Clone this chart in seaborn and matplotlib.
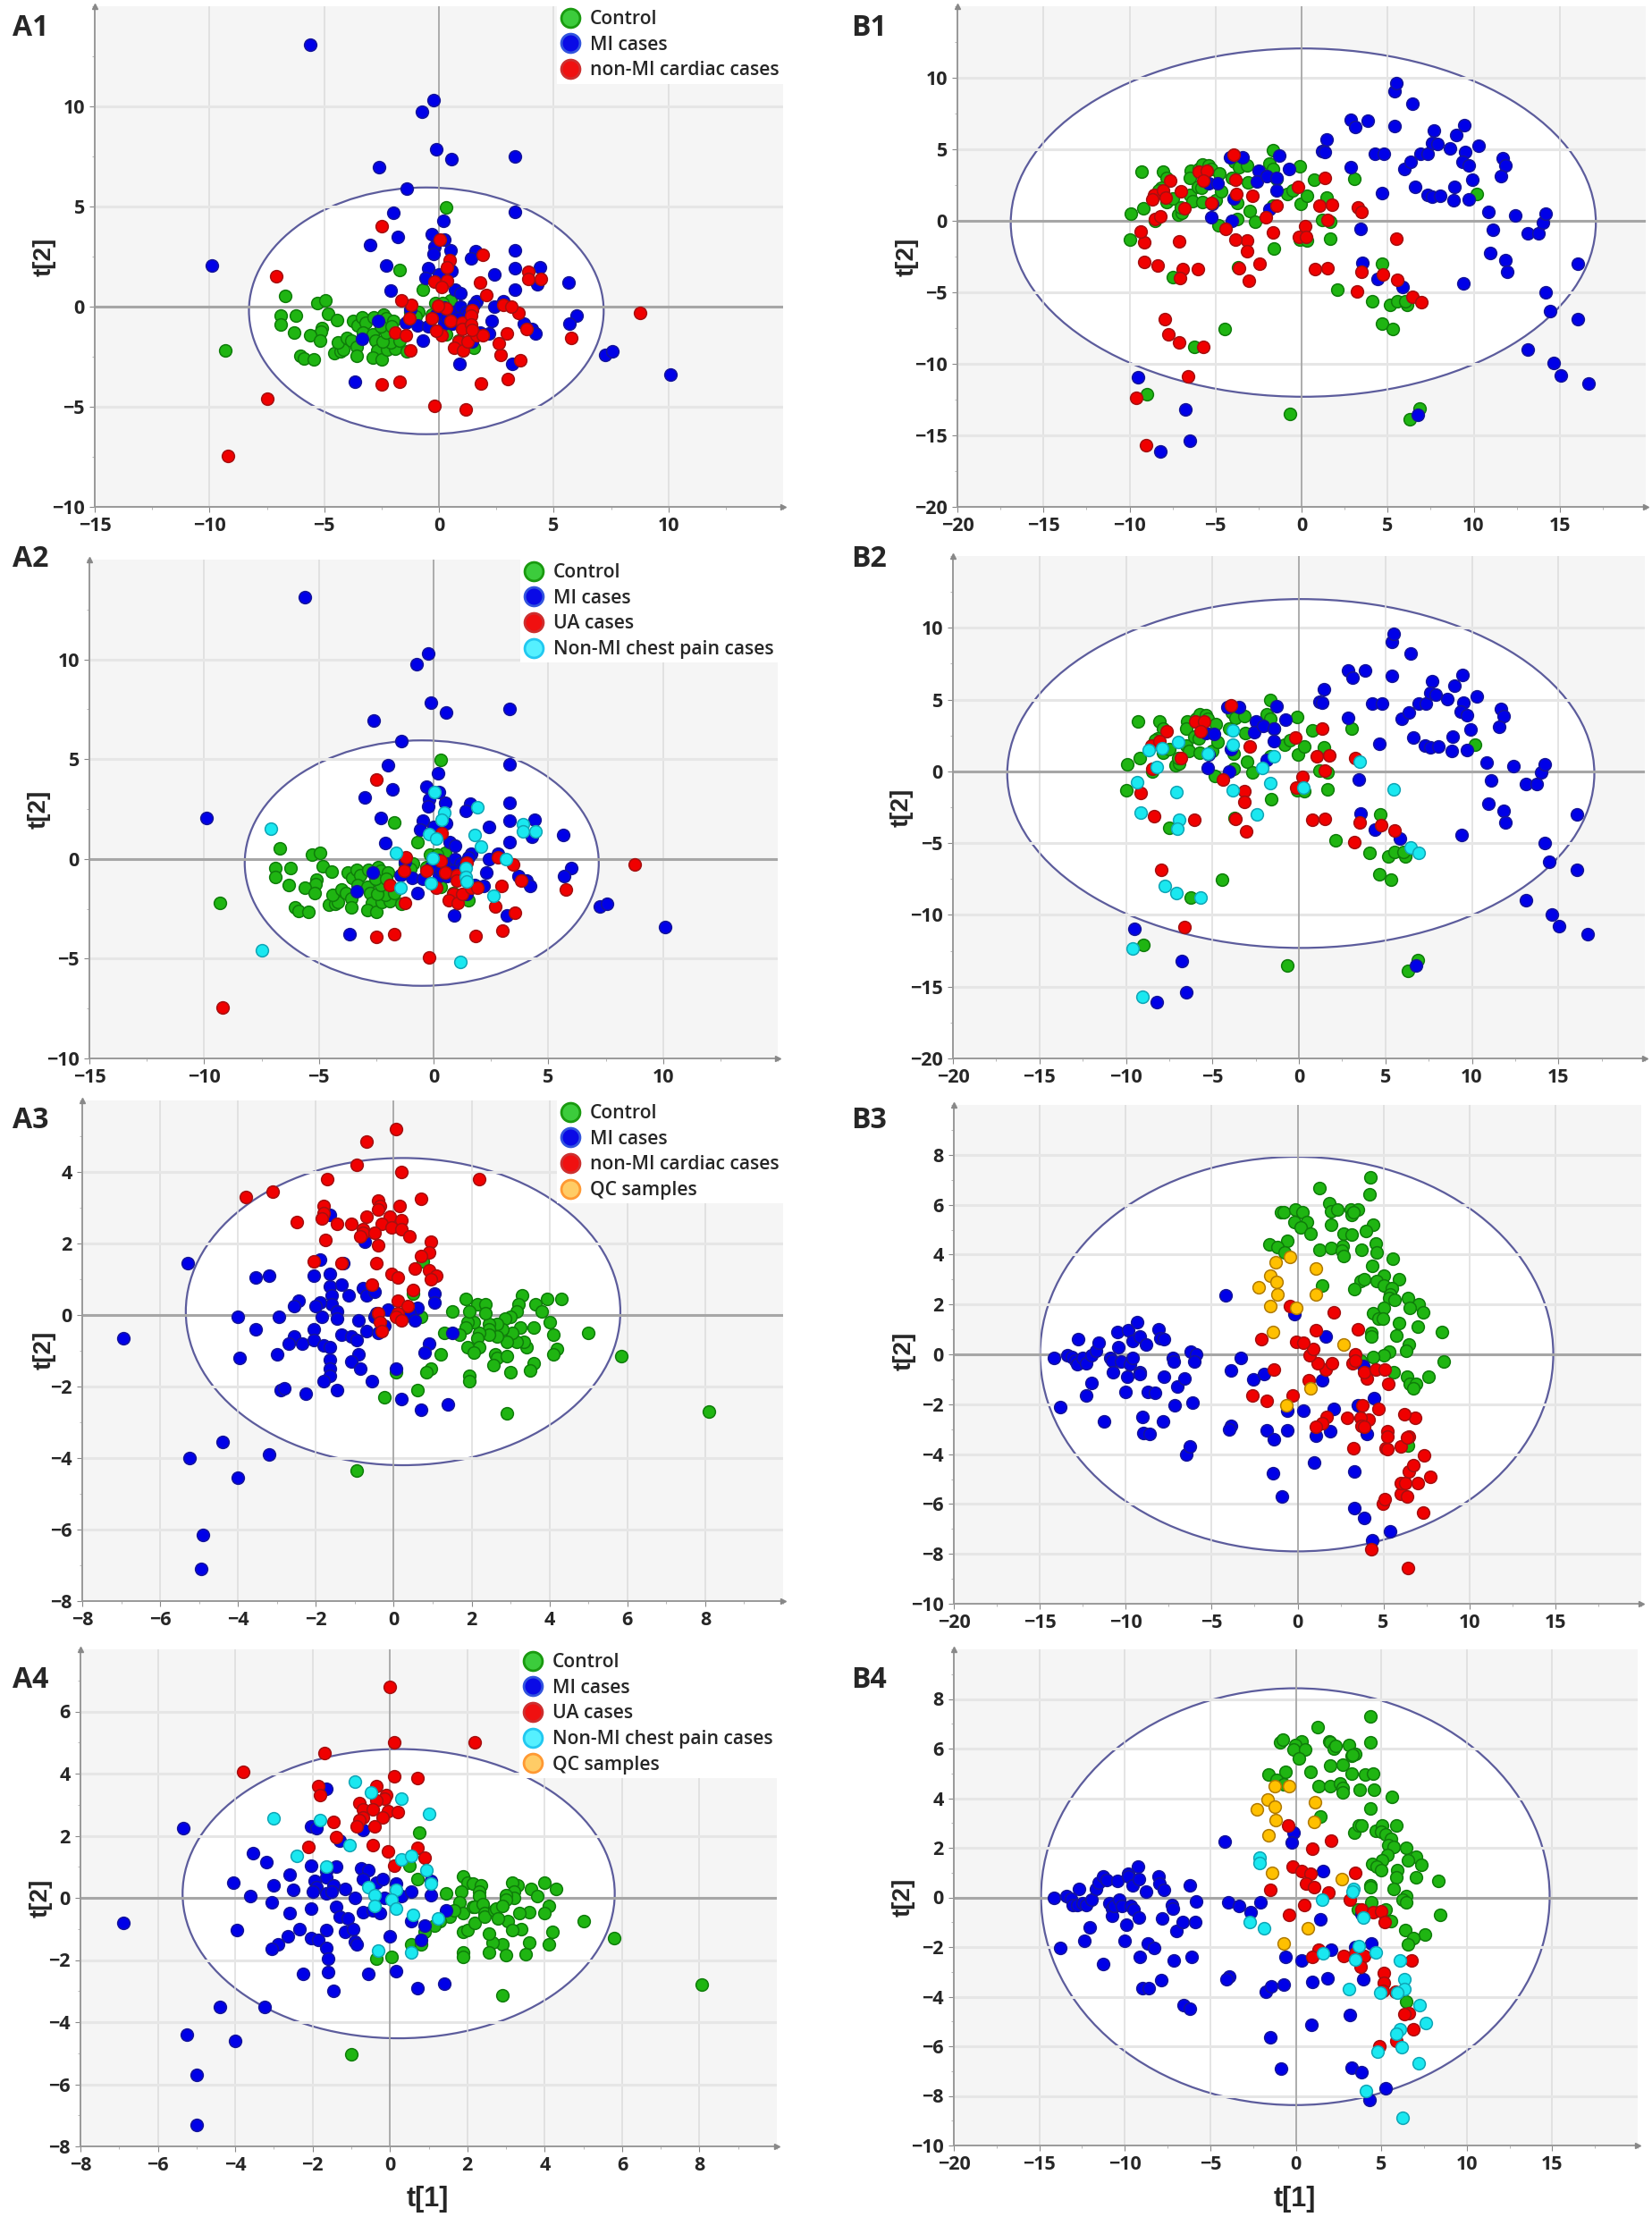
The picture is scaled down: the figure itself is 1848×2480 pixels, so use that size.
import matplotlib
matplotlib.use('Agg')
import matplotlib.pyplot as plt
import seaborn as sns
from matplotlib.lines import Line2D
from matplotlib.patches import Ellipse
from matplotlib.ticker import AutoMinorLocator

# ==============================================================================
# DATA: (t[1], t[2]) scores
# ==============================================================================
# A1 and A2 share one model, only the class colouring differs
a12_control = [(-9.3,-2.2),(-6.7,0.55),(-6.9,-0.45),(-6.9,-0.9),(-6.25,-0.45),(-6.3,-1.3),(-5.3,0.2),(-4.95,0.3),
    (-4.85,-0.35),(-4.45,-0.65),(-5.1,-1.05),(-5.15,-1.25),(-5.6,-1.45),(-5.2,-1.7),(-6.05,-2.45),(-5.9,-2.6),
    (-5.45,-2.65),(-4.55,-2.3),(-4.3,-2.25),(-4.15,-2.15),(-4.4,-1.8),(-4.0,-1.55),(-3.8,-1.7),(-3.6,-2.0),
    (-3.6,-2.45),(-3.75,-0.7),(-3.55,-0.95),(-3.35,-0.55),(-3.2,-0.8),(-3.3,-1.3),(-2.85,-0.55),(-2.4,-0.4),
    (-2.3,-0.6),(-2.0,-0.7),(-2.9,-1.4),(-2.75,-1.7),(-2.7,-2.2),(-2.9,-2.55),(-2.5,-2.65),(-2.25,-2.15),
    (-1.9,-2.1),(-2.1,-1.8),(-2.45,-1.75),(-1.7,-1.7),(-2.3,-1.3),(-1.4,-2.25),(-1.7,1.85),(-0.7,0.85),
    (0.3,4.95),(0.5,0.3),(-0.15,0.2),(0.15,0.2),(-0.9,-0.25),(-1.25,-0.25),(-1.0,-0.5),(-0.3,-0.4),
    (0.3,-1.4),(0.85,-1.7),(1.5,-2.05),(-2.55,-1.0),(-2.05,-1.0)]
a12_mi = [(-5.6,13.1),(-0.25,10.3),(-0.75,9.75),(-0.1,7.85),(0.55,7.35),(3.3,7.5),(-2.6,6.95),(-1.4,5.9),
    (-2.0,4.7),(3.3,4.75),(0.2,4.3),(-0.3,3.6),(0.25,3.35),(-1.8,3.5),(-3.0,3.1),(-0.2,3.0),(-0.25,2.65),
    (0.5,2.8),(1.6,2.75),(1.4,2.4),(3.3,2.8),(-9.9,2.05),(-2.3,2.05),(-0.45,1.9),(3.3,1.9),(4.4,1.95),
    (0.55,1.8),(-0.6,1.45),(0,1.6),(2.4,1.6),(5.65,1.2),(4.3,1.1),(-2.1,0.8),(0.7,0.85),(0.95,0.65),
    (3.3,0.85),(1.65,0.25),(2.8,0.25),(2.4,0),(6.0,-0.45),(5.7,-0.85),(2.3,-0.7),(3.7,-0.85),(4.05,-1.1),
    (4.2,-1.35),(-2.65,-0.7),(-1.45,-0.8),(-0.95,-0.95),(-3.35,-1.6),(-0.7,-1.7),(2.2,-1.35),(1.8,-1.3),
    (1.45,-1.75),(7.25,-2.4),(7.55,-2.25),(0.9,-2.85),(3.2,-2.85),(-3.65,-3.75),(10.1,-3.4),(0.25,-0.05),
    (0.6,-0.25),(0.95,-0.02),(1.15,-0.25),(0.8,-0.6),(1.3,-0.4),(1.5,0.1),(-0.1,-0.4),(0.25,-0.85),
    (-0.45,-1.0),(-1.25,-0.15),(0.35,-0.6),(0.6,-0.85)]
a12_ua = [(-2.5,4.0),(0.35,1.3),(-1.2,0.1),(-1.3,-0.6),(-1.9,-1.3),(-1.25,-2.2),(-0.3,-0.6),(0.3,-0.1),(0.5,-0.7),
    (0.1,-1.45),(1.0,-0.8),(1.0,-1.1),(1.45,-0.2),(0.85,-1.75),(0.65,-2.05),(1.05,-2.2),(1.25,-1.75),
    (1.65,-1.45),(1.9,-1.45),(2.8,0.1),(3.45,-0.3),(3.8,-1.1),(2.95,-1.35),(2.7,-2.4),(3.55,-2.7),
    (5.75,-1.55),(8.75,-0.3),(3.0,-3.6),(1.85,-3.85),(-1.7,-3.75),(-2.5,-3.9),(-0.2,-4.95),(-9.2,-7.45)]
a12_chest = [(-7.1,1.5),(-1.65,0.3),(0.05,3.35),(0.45,2.3),(0.35,1.95),(-0.2,1.25),(0.1,1.0),(1.9,2.6),(1.8,1.2),
    (2.05,0.6),(3.9,1.75),(3.9,1.4),(4.45,1.4),(3.15,0),(-0.05,0.05),(1.4,-0.45),(1.4,-0.9),(1.45,-1.15),
    (-0.1,-1.2),(-1.45,-1.45),(2.6,-1.85),(-7.5,-4.6),(1.15,-5.15)]

# B1 and B2 share one model as well
b12_control = [(-9.3,3.45),(-9.9,0.5),(-9.2,0.9),(-10,-1.3),(-8.05,3.45),(-7.85,3.0),(-8.15,2.3),(-8.3,2.15),
    (-7.85,1.3),(-7.5,1.55),(-7.15,0.45),(-6.95,0.55),(-7.0,0.95),(-8.5,0),(-7.5,-3.95),(-6.45,3.5),
    (-6.5,3.0),(-6.5,1.8),(-6.35,1.4),(-5.95,3.65),(-5.75,3.95),(-5.4,3.9),(-5.25,3.65),(-6.05,2.4),
    (-5.8,2.3),(-5.75,1.3),(-5.0,1.45),(-4.8,3.3),(-4.7,2.05),(-4.85,-0.3),(-4.05,3.0),(-3.9,4.1),
    (-3.65,3.75),(-3.15,3.85),(-3.75,1.25),(-3.75,0.15),(-3.0,0.7),(-3.1,2.7),(-2.7,-0.05),(-3.7,-3.25),
    (-1.65,4.95),(-1.85,4.0),(-1.65,3.65),(-1.45,2.95),(-1.65,1.05),(-1.6,-1.95),(-4.45,-7.55),(-6.25,-8.8),
    (-9.0,-12.1),(-0.85,1.85),(-0.5,2.15),(-0.1,3.8),(-0.05,1.2),(0.3,1.75),(0.75,2.85),(1.45,1.65),
    (1.2,0.05),(1.65,-0.05),(1.65,-1.25),(-0.1,-1.3),(0.3,-1.4),(3.05,2.95),(2.1,-4.8),(4.1,-5.65),
    (4.7,-3.0),(4.65,-7.2),(5.3,-7.55),(5.15,-5.9),(5.55,-5.6),(6.15,-5.9),(6.05,-5.6),(10.2,1.85),
    (-0.65,-13.5),(6.3,-13.9),(6.85,-13.15)]
b12_mi = [(-9.5,-10.95),(-6.75,-13.2),(-6.5,-15.4),(-8.2,-16.1),(-5.4,2.65),(-4.9,2.6),(-5.25,0.25),(-5.2,1.2),
    (-4.15,4.45),(-3.45,4.45),(-3.95,1.55),(-4.05,0),(-2.5,3.5),(-2.6,2.75),(-2.05,3.15),(-1.45,3.0),
    (-1.45,2.1),(-1.3,4.55),(-0.75,3.6),(-1.85,0.8),(1.2,4.85),(1.35,4.8),(1.45,5.7),(2.85,7.05),(3.1,6.55),
    (3.85,7.0),(5.4,9.05),(5.5,9.6),(6.45,8.2),(5.4,6.65),(2.85,3.75),(4.65,1.95),(4.25,4.7),(4.8,4.7),
    (5.95,3.65),(6.35,4.1),(6.6,2.35),(6.9,4.7),(7.35,4.7),(7.7,6.3),(7.6,5.45),(7.9,5.35),(8.6,5.05),
    (7.3,1.8),(7.6,1.7),(8.05,1.75),(8.85,1.45),(8.9,2.4),(9.0,6.0),(9.45,6.7),(9.5,4.8),(9.35,4.15),
    (9.7,3.9),(9.7,1.5),(9.9,2.9),(10.3,5.25),(10.85,0.6),(11.7,4.35),(11.85,3.85),(11.6,3.1),(12.4,0.35),
    (11.1,-0.65),(10.95,-2.25),(11.85,-2.75),(11.95,-3.55),(9.4,-4.4),(13.15,-0.85),(13.75,-0.85),
    (14.0,-0.1),(14.2,0.5),(16.05,-3.0),(14.2,-5.0),(14.45,-6.3),(16.05,-6.85),(13.15,-9.0),(14.65,-9.95),
    (15.05,-10.8),(16.7,-11.35),(3.45,-0.55),(3.55,-2.95),(4.4,-4.05),(5.85,-4.65),(6.75,-13.55)]
b12_ua = [(-3.95,4.6),(-6.0,3.45),(-5.5,3.5),(-5.7,2.8),(-7.65,2.8),(-8.55,1.8),(-8.05,2.1),(-6.8,0.9),(-8.5,0.15),
    (-9.15,-1.5),(-8.35,-3.1),(-6.05,-3.4),(-4.4,-0.55),(-2.85,1.75),(-3.15,-1.35),(-3.15,-2.15),(-3.65,-3.3),
    (-3.05,-4.2),(-0.2,2.35),(1.35,3.0),(1.05,1.05),(1.75,1.1),(1.5,0.05),(0.2,-0.4),(-0.15,-1.15),(0.8,-3.4),
    (1.5,-3.3),(3.25,0.95),(3.5,-3.55),(3.2,-4.95),(4.75,-3.75),(5.55,-4.15),(-7.95,-6.85),(-6.6,-10.85)]
b12_chest = [(-8.7,1.5),(-7.9,1.6),(-7.0,2.05),(-8.2,0.3),(-9.35,-0.75),(-7.1,-1.45),(-9.15,-2.85),(-6.9,-3.4),
    (-7.05,-4.0),(-5.25,1.25),(-3.85,2.85),(-3.8,1.85),(-3.85,-1.3),(-1.45,1.05),(-2.1,0.25),(-1.65,-0.8),
    (-2.45,-3.0),(0.25,-1.1),(3.5,0.65),(5.5,-1.25),(6.45,-5.3),(6.95,-5.7),(-7.75,-7.95),(-7.1,-8.5),
    (-5.7,-8.8),(-9.6,-12.35),(-9.05,-15.7)]

a3_control = [(8.1,-2.7),(5.85,-1.15),(5.0,-0.5),(4.3,0.45),(3.95,0.45),(3.65,0.3),(3.3,0.55),(3.8,0.1),(3.2,0.3),
    (3.15,0.1),(4.0,-0.2),(4.1,-0.55),(4.2,-0.95),(4.1,-1.1),(3.6,-0.35),(3.6,-1.35),(3.5,-1.55),(3.4,-0.9),
    (3.35,-0.75),(3.15,-0.75),(3.25,-0.35),(3.0,-0.05),(2.85,-0.1),(3.05,-0.5),(2.9,-0.75),(2.8,-0.4),
    (2.65,-0.25),(2.65,-0.6),(2.45,-0.25),(2.45,-0.4),(2.45,-0.55),(2.2,-0.5),(2.15,-0.65),(2.2,-0.9),
    (2.05,-0.2),(1.9,-0.2),(1.85,-0.35),(1.85,0.45),(2.15,0.3),(2.35,0.3),(2.35,0.05),(1.95,0.1),(1.5,0.1),
    (1.9,-0.9),(2.05,-1.05),(2.6,-1.1),(2.65,-1.2),(2.55,-1.4),(2.9,-1.15),(3.0,-1.6),(1.95,-1.7),(1.95,-1.85),
    (2.9,-2.75),(1.3,-0.5),(1.7,-0.55),(1.2,-1.1),(0.95,-1.5),(0.85,-1.6),(0.6,-2.1),(-0.25,-2.3),(0.05,-1.6),
    (-0.95,-4.35),(0.5,0.6),(0.75,1.5),(0.7,-0.05)]
a3_mi = [(-5.3,1.45),(-6.95,-0.65),(-3.55,1.05),(-3.2,1.1),(-2.05,1.1),(-1.9,1.55),(-1.65,2.8),(-0.75,2.05),
    (-1.3,1.45),(-1.65,1.15),(-1.65,0.8),(-1.6,0.55),(-1.6,0.3),(-1.9,0.35),(-2.0,0.25),(-1.35,0.85),
    (-1.15,0.55),(-0.8,0.75),(-0.7,0.55),(-0.5,0.65),(-2.45,0.4),(-2.55,0.25),(-4.0,-0.05),(-2.95,-0.05),
    (-3.55,-0.4),(-1.85,-0.05),(-1.45,0.1),(-1.45,-0.1),(-0.9,-0.15),(-2.05,-0.4),(-2.55,-0.6),(-2.7,-0.8),
    (-2.35,-0.8),(-2.05,-0.7),(-1.8,-0.85),(-1.65,-0.9),(-1.35,-0.55),(-1.1,-0.6),(-0.95,-0.7),(-0.7,-0.45),
    (-0.4,-0.5),(-0.25,-0.3),(-0.5,-0.05),(-0.45,0.05),(-0.15,0.15),(0.6,0.2),(0.4,0.05),(0.55,-0.15),
    (1.05,0.6),(1.05,0.35),(1.5,-0.5),(0.9,-0.8),(0.8,-1.05),(-3.95,-1.2),(-3.0,-1.1),(-0.9,-1.1),(-1.65,-1.25),
    (-1.1,-1.3),(-1.65,-1.5),(-0.85,-1.5),(0.05,-1.5),(-1.65,-1.7),(-1.8,-1.85),(-0.55,-1.85),(-2.9,-2.1),
    (-2.8,-2.05),(-2.25,-2.2),(-1.45,-2.1),(0.2,-2.35),(0.7,-2.65),(1.4,-2.5),(-4.4,-3.55),(-5.25,-4.0),
    (-3.2,-3.9),(-4.0,-4.55),(-4.9,-6.15),(-4.95,-7.1)]
a3_cardiac = [(0.05,5.2),(-0.7,4.85),(-0.95,4.2),(0.2,4.0),(-1.7,3.8),(2.2,3.8),(-3.1,3.45),(-3.8,3.3),(0.7,3.25),
    (-0.4,3.2),(-0.35,3.05),(0.15,3.05),(-1.8,3.05),(-0.4,2.95),(-1.8,2.85),(-1.85,2.7),(-2.5,2.6),(-0.7,2.75),
    (-0.1,2.75),(0.2,2.65),(-0.3,2.55),(-1.45,2.55),(-1.1,2.55),(-0.05,2.45),(0.2,2.4),(-0.8,2.4),(-0.8,2.3),
    (-0.5,2.3),(-0.85,2.2),(0.4,2.2),(-1.75,2.1),(0.95,2.05),(-0.4,1.95),(0.9,1.75),(0.7,1.65),(-2.05,1.5),
    (-1.35,1.45),(-0.45,1.45),(0.55,1.3),(0.9,1.25),(-0.05,1.15),(0.1,1.05),(1.1,1.1),(0.95,1.0),(-0.55,0.85),
    (0.5,0.7),(0.1,0.4),(0.35,0.25),(-0.4,0.05),(0.1,0.05),(0.05,-0.05),(0.2,-0.15),(-0.35,-0.2),(-0.3,-0.45)]

a4_control = [(8.05,-2.8),(5.8,-1.3),(5.0,-0.75),(4.3,0.3),(4.0,0.5),(3.65,0.3),(3.8,0.05),(3.3,0.4),(3.15,0.5),
    (3.2,0.2),(3.2,0),(3.0,0.1),(3.0,-0.05),(4.1,-0.25),(4.0,-0.5),(3.6,-0.45),(3.35,-0.5),(3.05,-0.75),
    (3.4,-1.0),(4.2,-1.1),(3.15,-1.05),(3.6,-1.45),(4.1,-1.5),(3.5,-1.8),(2.9,-1.5),(2.65,-1.45),(2.55,-1.15),
    (2.55,-1.75),(3.0,-1.85),(2.9,-3.15),(1.9,-1.75),(1.9,-1.9),(1.9,-1.1),(2.0,-1.05),(2.2,-0.8),(1.9,0.7),
    (2.0,0.5),(2.15,0.45),(2.35,0.4),(2.3,0.2),(1.85,0.2),(1.45,0.15),(2.3,0.05),(1.8,-0.15),(1.9,-0.5),
    (2.15,-0.3),(2.2,-0.3),(2.4,-0.2),(2.45,-0.5),(2.45,-0.6),(2.7,-0.4),(2.75,-0.35),(2.8,-0.65),(2.9,-0.25),
    (1.55,-0.6),(1.65,-0.4),(1.3,-0.75),(1.15,-0.9),(0.9,-1.1),(0.55,-1.5),(0.8,-1.5),(-0.35,-1.95),(0.05,-1.9),
    (-1.0,-5.05),(0.75,2.1),(0.5,1.05),(0.7,0.6)]
a4_mi = [(-5.35,2.25),(-6.9,-0.8),(-3.55,1.45),(-3.2,1.15),(-2.6,0.75),(-4.05,0.5),(-3.0,0.4),(-3.6,0.05),
    (-3.05,-0.15),(-2.5,0.25),(-2.05,2.3),(-1.9,2.25),(-1.65,3.5),(-1.3,1.85),(-0.7,2.2),(-2.05,1.05),(-1.4,1.0),
    (-1.65,0.85),(-1.65,0.65),(-1.95,0.55),(-1.9,0.35),(-1.45,0.4),(-2.0,0.2),(-1.65,0.15),(-1.5,0.2),(-1.15,0.3),
    (-0.75,0.95),(-0.55,0.9),(-0.7,0.6),(-0.35,0.5),(-0.2,0.6),(-0.9,0),(0.15,0.45),(-0.15,0),(0.3,0.05),
    (0.55,0.2),(1.05,0.55),(1.05,0.1),(-2.6,-0.5),(-2.05,-0.35),(-1.4,-0.3),(-1.3,-0.6),(-1.1,-0.65),(-0.7,-0.45),
    (-0.45,-0.4),(-0.25,-0.5),(0.55,-0.75),(0.9,-0.9),(1.45,-0.4),(-3.95,-1.05),(-2.35,-1.0),(-1.65,-1.05),
    (-1.15,-1.1),(-0.95,-1.0),(-2.65,-1.25),(-2.05,-1.3),(-1.85,-1.35),(-2.9,-1.5),(-3.05,-1.65),(-0.9,-1.4),
    (-0.85,-1.5),(0,-1.25),(0.8,-1.35),(-1.65,-1.6),(-1.6,-1.95),(-2.25,-2.45),(-1.6,-2.4),(-0.55,-2.45),
    (0.15,-2.35),(-1.45,-3.0),(0.7,-2.9),(1.4,-2.75),(-4.4,-3.5),(-3.25,-3.5),(-5.25,-4.4),(-4.0,-4.6),
    (-5.0,-5.7),(-5.0,-7.3)]
a4_ua = [(0,6.8),(0.1,5.0),(2.2,5.0),(-1.7,4.65),(-3.8,4.05),(0.1,3.9),(0.7,3.85),(-1.85,3.6),(-0.35,3.6),(-1.8,3.3),
    (-0.1,3.3),(-0.15,3.2),(-0.35,3.15),(-0.8,3.05),(-0.7,2.85),(-0.45,2.85),(-0.05,2.8),(0.2,2.75),(-0.2,2.6),
    (-0.7,2.6),(-0.8,2.5),(-1.45,2.45),(-0.85,2.3),(-0.4,2.3),(-1.4,1.95),(-0.45,1.7),(-2.1,1.65),(0.7,1.6),
    (-0.05,1.5),(0.9,1.3),(0.1,1.05)]
a4_chest = [(-0.9,3.75),(-0.5,3.4),(0.3,3.2),(1.0,2.7),(-3.0,2.55),(-1.8,2.5),(-1.05,1.7),(-2.4,1.35),(-1.65,1.0),
    (0.3,1.25),(0.55,1.35),(0.95,0.9),(1.05,0.45),(-0.55,0.35),(-0.4,0.1),(0.15,0.25),(0.05,-0.05),(-0.4,-0.25),
    (0.15,-0.35),(0.6,-0.55),(1.25,-0.65),(-0.3,-1.7),(0.55,-1.75)]

b3_control = [(4.25,7.1),(1.25,6.65),(4.2,6.4),(1.85,6.05),(1.95,5.75),(2.3,5.8),(3.1,5.8),(3.5,5.8),(3.15,5.6),
    (3.25,5.7),(-0.95,5.7),(-0.8,5.7),(-0.15,5.8),(0.3,5.7),(-0.2,5.3),(0.55,5.3),(0.2,5.1),(0.75,4.85),(1.95,5.2),
    (4.4,5.2),(4.0,4.95),(2.7,4.85),(3.15,4.8),(-0.6,4.55),(-1.65,4.4),(-1.15,4.3),(-0.75,4.1),(1.3,4.2),(1.95,4.25),
    (2.65,4.35),(2.55,4.15),(2.7,3.95),(3.7,4.2),(4.55,4.45),(4.6,4.1),(5.55,3.85),(4.35,3.55),(5.9,3.0),(5.0,3.15),
    (3.65,2.95),(3.85,3.0),(4.6,2.95),(5.0,2.75),(1.45,2.75),(3.3,2.6),(5.5,2.65),(5.4,2.4),(5.35,2.25),(5.65,2.2),
    (6.4,2.25),(7.05,2.0),(6.55,1.85),(7.3,1.7),(5.0,1.85),(4.4,1.65),(4.7,1.45),(4.95,1.45),(5.9,1.25),(7.0,1.1),
    (8.4,0.9),(4.3,0.85),(4.3,0.7),(5.75,0.75),(6.45,0.4),(6.3,0.15),(5.35,0.1),(5.0,-0.05),(4.4,-0.1),(8.5,-0.3),
    (5.6,-0.7),(6.35,-0.9),(7.6,-0.9),(6.55,-1.2),(6.9,-1.2),(6.75,-1.35),(6.4,-3.65),(3.65,-0.25)]
b3_mi = [(-14.2,-0.15),(-13.8,-2.1),(-13.4,-0.05),(-13.15,-0.1),(-12.95,-0.25),(-12.75,0.6),(-12.8,-0.4),(-12.5,-0.15),
    (-12.3,-0.35),(-12.3,-1.65),(-12.0,-1.15),(-12.0,-0.05),(-11.75,0.15),(-11.55,0.45),(-11.25,-2.7),(-10.9,-0.15),
    (-10.8,-0.25),(-10.75,-0.7),(-10.5,0.9),(-10.45,0.3),(-10.25,-0.3),(-10.0,-1.5),(-9.9,-0.9),(-9.85,0.95),
    (-9.75,-0.4),(-9.6,0.55),(-9.6,-0.15),(-9.35,1.3),(-9.2,0.7),(-9.2,-0.7),(-9.2,-0.8),(-9.05,-2.5),(-8.95,-3.15),
    (-8.8,0.4),(-8.7,-1.5),(-8.6,-3.2),(-8.3,-1.55),(-8.1,1.0),(-8.0,0.65),(-7.8,0.6),(-7.8,-0.9),(-7.85,-2.7),
    (-7.25,-0.15),(-7.2,-0.3),(-7.0,-1.3),(-7.15,-2.05),(-6.6,-0.95),(-6.5,-4.0),(-6.25,-3.7),(-6.2,0.1),(-5.9,0),
    (-6.0,-0.3),(-6.1,-1.95),(-4.2,2.35),(-3.3,-0.15),(-3.9,-0.65),(-3.85,-2.85),(-4.0,-3.0),(-2.6,-1.0),(-1.95,-0.8),
    (-1.8,-3.05),(-1.4,-3.4),(-0.6,-3.05),(-1.45,-4.75),(-0.9,-5.7),(-0.2,1.6),(1.65,0.7),(1.45,-1.05),(-0.6,-2.25),
    (0.35,-2.25),(2.1,-2.2),(1.9,-3.1),(1.05,-3.25),(0.95,-4.35),(3.3,-4.7),(3.3,-6.15),(3.9,-6.55),(5.4,-7.1),
    (4.35,-7.45),(4.05,-3.2),(3.5,-2.05),(4.45,-1.75),(3.8,-0.45)]
b3_cardiac = [(6.4,-8.55),(4.3,-7.8),(7.3,-6.35),(4.95,-6.0),(5.05,-5.8),(6.0,-5.6),(6.35,-5.7),(6.0,-5.15),(6.25,-5.15),
    (7.0,-5.15),(7.7,-4.9),(6.45,-4.7),(6.75,-4.45),(7.35,-4.05),(3.25,-3.75),(5.1,-3.75),(5.25,-3.8),(6.0,-3.7),
    (6.45,-3.3),(6.35,-3.35),(5.25,-3.1),(5.25,-3.3),(6.85,-2.55),(6.2,-2.4),(4.7,-2.2),(4.15,-2.6),(3.65,-2.55),
    (3.7,-2.85),(3.85,-2.9),(2.9,-2.55),(1.7,-2.5),(1.45,-2.75),(1.05,-2.9),(3.75,-2.05),(5.3,-1.2),(4.05,-0.95),
    (3.85,-0.7),(4.55,-0.6),(5.05,-0.6),(3.2,-0.35),(3.35,0),(3.35,-0.25),(1.65,-0.6),(2.0,-0.35),(1.15,-0.35),
    (0.7,-0.05),(0.9,0.2),(-0.1,0.5),(0.35,0.45),(1.05,0.95),(3.5,1.0),(2.1,1.7),(-0.45,1.95),(-2.1,0.6),(-1.4,-0.6),
    (0.65,-1.05),(-0.3,-1.65),(-1.8,-1.85),(-2.65,-1.65)]
b3_qc = [(-0.45,3.9),(-1.25,3.7),(1.05,3.45),(-1.6,3.15),(-1.2,2.9),(-2.25,2.7),(-1.15,2.4),(1.05,2.4),(-1.6,1.95),
    (-0.1,1.85),(-1.45,0.9),(2.7,0.4),(0.75,-1.35),(-0.65,-2.05)]

b4_control = [(4.35,7.3),(1.3,6.85),(4.35,6.25),(-0.9,6.25),(-0.75,6.35),(0.35,6.3),(-0.05,6.15),(-0.15,5.95),(0.55,5.95),
    (0.2,5.6),(1.95,6.3),(2.0,6.25),(2.2,6.0),(2.35,6.1),(3.1,6.15),(3.5,5.8),(3.25,5.7),(3.3,5.75),(2.0,5.3),(2.75,5.35),
    (-0.6,5.05),(0.85,5.05),(-1.6,4.95),(-1.1,4.75),(-0.7,4.55),(3.25,5.0),(4.05,4.95),(4.5,5.0),(1.35,4.5),(2.0,4.5),
    (2.6,4.6),(2.75,4.4),(2.75,4.25),(3.75,4.35),(4.55,4.35),(5.6,4.05),(4.35,3.6),(1.45,3.25),(3.4,2.6),(3.7,2.9),
    (3.85,2.9),(4.7,2.7),(5.05,2.9),(5.9,2.9),(5.0,2.65),(5.25,2.55),(5.55,2.35),(5.4,2.1),(5.7,2.05),(6.45,2.0),
    (5.35,1.7),(7.05,1.65),(5.05,1.5),(6.55,1.5),(7.35,1.3),(4.45,1.35),(4.75,1.25),(5.0,1.1),(5.95,1.1),(5.9,0.8),
    (7.05,0.8),(8.35,0.65),(4.35,0.5),(4.35,0.4),(5.75,0.35),(6.45,0.05),(6.25,-0.1),(6.45,-0.2),(4.4,-0.2),(5.25,-0.5),
    (3.65,-0.5),(8.45,-0.7),(5.55,-0.95),(6.4,-1.3),(7.55,-1.5),(6.85,-1.65),(6.55,-1.9),(6.45,-4.2)]
b4_mi = [(-14.15,0),(-13.8,-2.05),(-13.4,0.05),(-13.15,-0.05),(-13.05,-0.3),(-12.7,0.35),(-12.8,-0.3),(-12.45,-0.25),
    (-12.25,-0.3),(-12.35,-1.75),(-11.95,-0.1),(-11.7,0.35),(-11.55,0.6),(-11.25,0.85),(-11.05,0.7),(-12.05,-1.2),
    (-11.25,-2.7),(-10.9,-0.25),(-10.75,-0.45),(-10.75,-0.75),(-10.65,-0.35),(-10.45,0.65),(-10.35,-0.1),(-10.15,-0.35),
    (-10.0,-1.75),(-9.9,-1.1),(-9.8,0.95),(-9.8,0.85),(-9.65,-0.35),(-9.55,0.5),(-9.5,-0.5),(-9.25,1.25),(-9.2,0.75),
    (-9.2,-0.8),(-9.1,-2.4),(-8.95,-3.65),(-8.75,0.25),(-8.65,-1.85),(-8.6,-3.65),(-8.3,-2.05),(-8.05,0.85),(-8.0,0.55),
    (-7.7,0.3),(-7.8,-0.85),(-7.85,-3.35),(-7.25,-0.3),(-7.2,-0.45),(-7.0,-1.35),(-7.15,-2.55),(-6.6,-1.0),(-6.55,-4.35),
    (-6.2,-4.5),(-6.2,0.5),(-5.85,-0.15),(-5.9,-1.0),(-6.1,-2.4),(-4.15,2.25),(-3.95,-0.2),(-3.3,-0.35),(-2.65,-0.6),
    (-2.05,-0.2),(-3.9,-3.2),(-4.05,-3.3),(-1.75,-3.8),(-1.45,-3.6),(-0.7,-3.5),(-1.5,-5.65),(-0.85,-6.9),(-0.15,2.6),
    (-0.25,2.2),(1.6,1.05),(1.45,-0.9),(-0.6,-2.4),(0.35,-2.55),(2.05,-2.1),(1.85,-3.25),(0.95,-3.4),(0.9,-5.15),
    (3.15,-4.75),(3.25,-6.85),(3.85,-7.05),(5.25,-7.7),(4.3,-8.15),(3.95,-3.3),(3.5,-2.0),(4.4,-1.85),(3.85,-0.65)]
b4_ua = [(-0.45,2.9),(2.05,2.3),(0.95,1.95),(-0.2,1.25),(0.35,1.05),(0.85,0.95),(3.5,1.0),(0.6,0.55),(1.05,0.4),(1.9,0.2),
    (-1.5,0.3),(3.15,-0.1),(0.5,-0.3),(-0.4,-0.7),(3.85,-0.5),(4.5,-0.6),(5.0,-0.55),(5.2,-1.0),(1.35,-2.1),(0.95,-2.4),
    (2.8,-2.35),(3.5,-2.25),(4.0,-2.35),(3.8,-2.8),(6.75,-2.55),(5.15,-3.05),(5.15,-3.45),(5.1,-3.75),(5.85,-3.8),
    (6.6,-4.65),(6.35,-4.7),(6.9,-5.3),(5.9,-5.8),(4.9,-6.0)]
b4_chest = [(-2.1,1.6),(-2.1,1.4),(3.35,0.35),(3.3,0.25),(1.55,-0.1),(3.95,-0.8),(-2.7,-1.0),(-1.85,-1.25),(3.7,-1.95),
    (4.7,-2.2),(1.6,-2.25),(3.5,-2.5),(6.1,-2.55),(6.35,-3.3),(3.1,-3.7),(6.35,-3.7),(4.95,-3.85),(5.95,-3.85),
    (7.25,-4.35),(7.6,-5.05),(6.1,-5.3),(5.9,-5.5),(6.2,-6.05),(4.8,-6.2),(7.2,-6.7),(4.1,-7.8),(6.25,-8.9)]
b4_qc = [(-1.25,4.5),(-0.4,4.5),(-1.65,3.95),(1.1,3.85),(-1.25,3.65),(-2.25,3.55),(-1.2,3.1),(1.05,3.05),(-1.6,2.5),
    (-1.4,1.0),(2.7,0.75),(0.7,-1.25),(-0.7,-1.85)]

lab_control = 'Control'
lab_mi = 'MI cases'
lab_cardiac = 'non-MI cardiac cases'
lab_ua = 'UA cases'
lab_chest = 'Non-MI chest pain cases'
lab_qc = 'QC samples'

ticks_a12 = ([-15, -10, -5, 0, 5, 10], [-10, -5, 0, 5, 10])
ticks_b12 = ([-20, -15, -10, -5, 0, 5, 10, 15], [-20, -15, -10, -5, 0, 5, 10])
ticks_a3 = ([-8, -6, -4, -2, 0, 2, 4, 6, 8], [-8, -6, -4, -2, 0, 2, 4])
ticks_a4 = ([-8, -6, -4, -2, 0, 2, 4, 6, 8], [-8, -6, -4, -2, 0, 2, 4, 6])
ticks_b34 = ([-20, -15, -10, -5, 0, 5, 10, 15], [-10, -8, -6, -4, -2, 0, 2, 4, 6, 8])

# ==============================================================================
# STYLE
# ==============================================================================
sns.set_style('white')
plt.rcParams['font.family'] = ['Open Sans', 'DejaVu Sans']

W, H = 1848, 2480
fig = plt.figure(figsize=(W / 100, H / 100), dpi=100)

GREEN = ('#1fb512', '#0f7d0a', '#3ccc3c', '#1a9a10')
BLUE = ('#0000e8', '#15159a', '#0a0ae6', '#3355dd')
RED = ('#f00000', '#a51010', '#f01010', '#cc3030')
CYAN = ('#1ae8f0', '#10a5b5', '#55f0ff', '#22c8f0')
ORANGE = ('#ffc000', '#b07a00', '#ffcc66', '#ff9933')


def panel(box, xlim, ylim, ticks, ell, groups, show_legend=True):
    left, right, top, bottom = box
    ax = fig.add_axes([left / W, 1 - bottom / H, (right - left) / W, (bottom - top) / H])
    ax.set_facecolor('#f5f5f5')
    ax.set_xlim(*xlim)
    ax.set_ylim(*ylim)
    x0, x1, y0, y1 = ell
    ax.add_patch(Ellipse(((x0 + x1) / 2, (y0 + y1) / 2), x1 - x0, y1 - y0, facecolor='white',
                         edgecolor='#5c5c9c', linewidth=1.6, zorder=1))
    for t in ticks[0]:
        if t != 0:
            ax.axvline(t, color='#dcdcdc', linewidth=1.1, zorder=1.5)
    for t in ticks[1]:
        if t != 0:
            ax.axhline(t, color='#e6e6e6', linewidth=2.2, zorder=1.5)
    ax.axvline(0, color='#a6a6a6', linewidth=1.3, zorder=1.6)
    ax.axhline(0, color='#a6a6a6', linewidth=2.2, zorder=1.6)

    handles = []
    for pts, label, col in groups:
        sns.scatterplot(x=[p[0] for p in pts], y=[p[1] for p in pts], color=col[0], edgecolor=col[1],
                        linewidth=1.1, s=98, ax=ax, zorder=3, legend=False)
        handles.append(Line2D([], [], linestyle='none', marker='o', markersize=15, markerfacecolor=col[2],
                              markeredgecolor=col[3], markeredgewidth=2, label=label))

    if show_legend:
        leg = ax.legend(handles=handles, loc='upper right', bbox_to_anchor=(1, 1), borderaxespad=0, frameon=True,
                        facecolor='white', edgecolor='none', fancybox=False, framealpha=1,
                        labelspacing=0.36, handlelength=1.0, handletextpad=0.55, borderpad=0.2,
                        prop={'family': ['Open Sans', 'DejaVu Sans'], 'weight': 600, 'size': 15.2})
        leg.set_zorder(5)

    ax.set_xticks(ticks[0])
    ax.set_yticks(ticks[1])
    ax.xaxis.set_minor_locator(AutoMinorLocator(2))
    ax.yaxis.set_minor_locator(AutoMinorLocator(2))
    ax.tick_params(which='major', length=4, color='#888888', labelsize=15.5, pad=4, bottom=True, left=True)
    ax.tick_params(which='minor', length=2, color='#aaaaaa', bottom=True, left=True)
    for lab in ax.get_xticklabels() + ax.get_yticklabels():
        lab.set_fontweight('bold')
    for s in ['top', 'right']:
        ax.spines[s].set_visible(False)
    for s in ['left', 'bottom']:
        ax.spines[s].set_color('#999999')
        ax.spines[s].set_linewidth(1.4)
    ax.plot(1, 0, '>', color='#888888', markersize=5, transform=ax.transAxes, clip_on=False, zorder=4)
    ax.plot(0, 1, '^', color='#888888', markersize=5, transform=ax.transAxes, clip_on=False, zorder=4)
    return ax


def px_text(x, y, s, **kw):
    fig.text(x / W, 1 - y / H, s, ha=kw.pop('ha', 'center'), va='center', **kw)


# ==============================================================================
# PANELS
# ==============================================================================
panel((106, 876, 7, 567), (-15, 15), (-10, 15), ticks_a12, (-8.28, 7.18, -6.37, 5.95),
      [(a12_control, lab_control, GREEN), (a12_mi, lab_mi, BLUE), (a12_ua + a12_chest, lab_cardiac, RED)])
panel((100, 870, 626, 1184), (-15, 15), (-10, 15), ticks_a12, (-8.23, 7.2, -6.36, 5.94),
      [(a12_control, lab_control, GREEN), (a12_mi, lab_mi, BLUE), (a12_ua, lab_ua, RED), (a12_chest, lab_chest, CYAN)])
panel((92, 876, 1231, 1791), (-8, 10), (-8, 6), ticks_a3, (-5.34, 5.82, -4.2, 4.39),
      [(a3_control, lab_control, GREEN), (a3_mi, lab_mi, BLUE), (a3_cardiac, lab_cardiac, RED), ([], lab_qc, ORANGE)])
panel((90, 869, 1845, 2401), (-8, 10), (-8, 8), ticks_a4, (-5.36, 5.81, -4.52, 4.79),
      [(a4_control, lab_control, GREEN), (a4_mi, lab_mi, BLUE), (a4_ua, lab_ua, RED), (a4_chest, lab_chest, CYAN), ([], lab_qc, ORANGE)])
panel((1071, 1841, 7, 567), (-20, 20), (-20, 15), ticks_b12, (-16.9, 17.1, -12.3, 12.05),
      [(b12_control, lab_control, GREEN), (b12_mi, lab_mi, BLUE), (b12_ua + b12_chest, lab_cardiac, RED)], False)
panel((1066, 1840, 622, 1184), (-20, 20), (-20, 15), ticks_b12, (-16.86, 17.08, -12.3, 12.0),
      [(b12_control, lab_control, GREEN), (b12_mi, lab_mi, BLUE), (b12_ua, lab_ua, RED), (b12_chest, lab_chest, CYAN)], False)
panel((1067, 1836, 1236, 1794), (-20, 20), (-10, 10), ticks_b34, (-14.98, 14.88, -7.9, 7.92),
      [(b3_control, lab_control, GREEN), (b3_mi, lab_mi, BLUE), (b3_cardiac, lab_cardiac, RED), (b3_qc, lab_qc, ORANGE)], False)
panel((1067, 1832, 1845, 2400), (-20, 20), (-10, 10), ticks_b34, (-14.9, 14.85, -8.37, 8.43),
      [(b4_control, lab_control, GREEN), (b4_mi, lab_mi, BLUE), (b4_ua, lab_ua, RED), (b4_chest, lab_chest, CYAN), (b4_qc, lab_qc, ORANGE)], False)

# panel letters and axis titles
panel_labels = ['A1', 'A2', 'A3', 'A4', 'B1', 'B2', 'B3', 'B4']
label_x = [14, 14, 14, 14, 952, 952, 952, 952]
label_y = [31, 626, 1254, 1880, 31, 626, 1254, 1880]
for s, x, y in zip(panel_labels, label_x, label_y):
    px_text(x, y, s, ha='left', fontsize=23, fontweight='bold')

t2_x = [50, 44, 50, 46, 1015, 1009, 1012, 1011]
t2_y = [287, 905, 1510, 2123, 287, 903, 1511, 2122]
for x, y in zip(t2_x, t2_y):
    px_text(x, y, 't[2]', rotation=90, fontsize=20, fontweight='bold', family=['Liberation Sans', 'DejaVu Sans'])
for x in [478, 1448]:
    px_text(x, 2460, 't[1]', fontsize=22, fontweight='bold', family=['Liberation Sans', 'DejaVu Sans'])

fig.savefig('out.png', dpi=100, facecolor='white')
